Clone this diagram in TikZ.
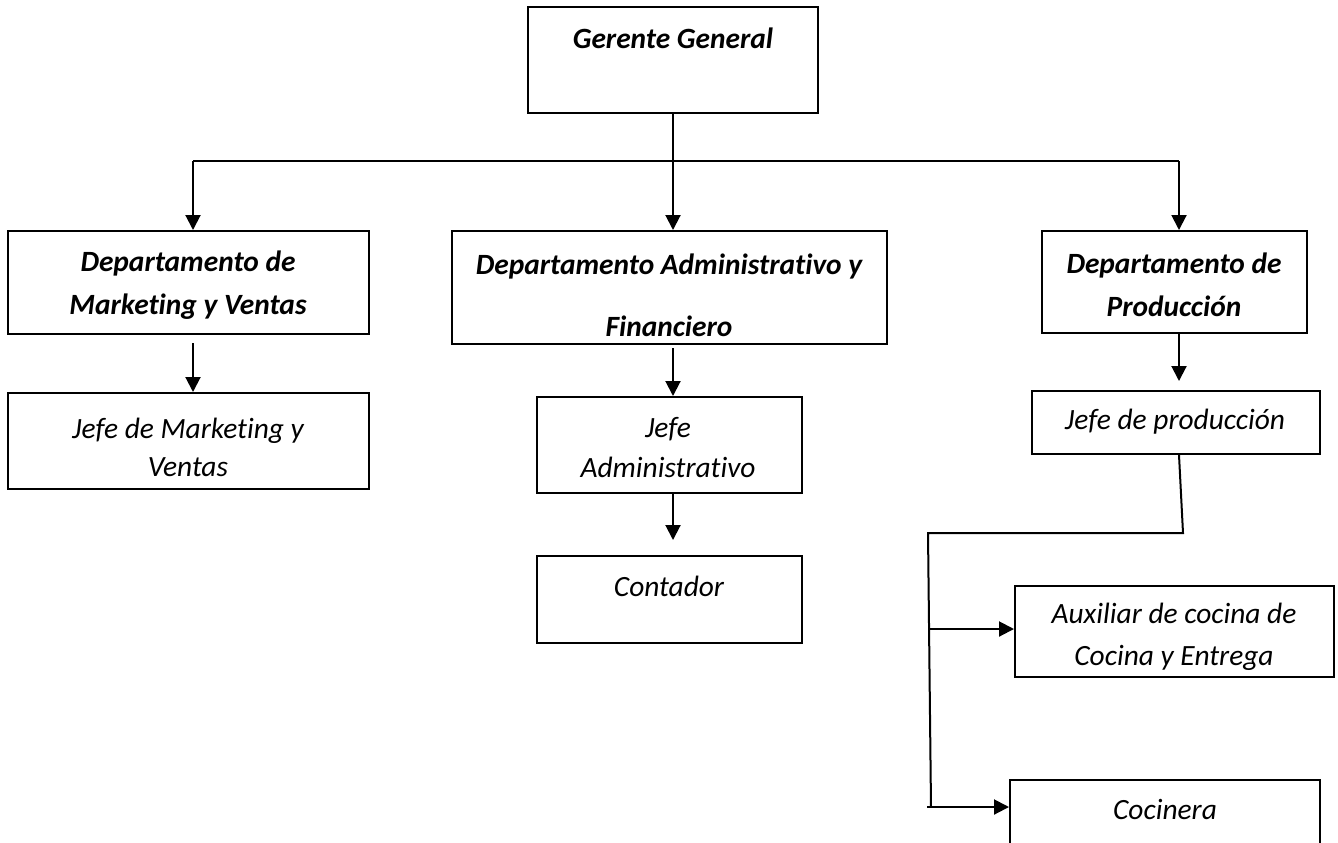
\documentclass[tikz,border=0pt]{standalone}
\usepackage{fontspec}
\setmainfont{Carlito}[Ligatures=NoCommon]
\usetikzlibrary{arrows.meta,fit,positioning}

\tikzset{
  box/.style={draw,line width=1pt,inner sep=0pt},
  txt/.style={font=\fontsize{14.7}{21}\selectfont\itshape,align=center,inner sep=0pt},
  btxt/.style={txt,font=\fontsize{14.7}{21.5}\selectfont\bfseries\itshape},
  arr/.style={line width=1pt,-{Triangle[width=7.5pt,length=7.5pt]}},
  ln/.style={line width=1pt}
}

\begin{document}
\begin{tikzpicture}[x=0.5pt,y=-0.5pt]
\clip (0,0) rectangle (1338,842);
\fill[white] (0,0) rectangle (1338,842);

% boxes
\node[box,fit={(528,7) (818,113)}] (gg) {};
\node[box,fit={(8,231) (369,334)}] (dm) {};
\node[box,fit={(452,231) (887,344)}] (da) {};
\node[box,fit={(1042,231) (1307,333)}] (dp) {};
\node[box,fit={(8,393) (369,489)}] (jm) {};
\node[box,fit={(537,397) (802,493)}] (ja) {};
\node[box,fit={(537,556) (802,643)}] (ct) {};
\node[box,fit={(1032,391) (1320,454)}] (jp) {};
\node[box,fit={(1015,586) (1334,677)}] (ax) {};
\node[box,fit={(1010,780) (1320,900)}] (co) {};

% texts
\node[btxt] (tgg) at (673,38) {Gerente General};
\node[btxt] (tdm) at (188,285) {Departamento de\\Marketing y Ventas};
\node[btxt,font=\fontsize{14.7}{31}\selectfont\bfseries\itshape] (tda) at (669,295) {Departamento Administrativo y\\Financiero};
\node[btxt] (tdp) at (1174,285) {Departamento de\\Producción};
\node[txt,font=\fontsize{14.7}{19}\selectfont\itshape] (tjm) at (188,447) {Jefe de Marketing y\\Ventas};
\node[txt,font=\fontsize{14.7}{20}\selectfont\itshape] (tja) at (668,448) {Jefe\\Administrativo};
\node[txt] (tct) at (669,586) {Contador};
\node[txt] (tjp) at (1175,422) {Jefe de producción};
\node[txt] (tax) at (1174,637) {Auxiliar de cocina de\\Cocina y Entrega};
\node[txt] (tco) at (1165,809) {Cocinera};

% connectors
\coordinate (top) at (673,161);
\coordinate (hl) at (193,161);
\coordinate (hr) at (1179,161);
\draw[ln] (gg.south) -- (top);
\draw[ln] (hl) -- (hr);
\draw[arr] (hl) -- (hl |- dm.north);
\draw[arr] (top) -- (top |- da.north);
\draw[arr] (hr) -- (hr |- dp.north);
\draw[arr,shorten <=4pt] (dm.south -| hl) -- (jm.north -| hl);
\draw[arr,shorten <=1.5pt] (da.south -| top) -- (ja.north -| top);
\draw[arr,shorten >=7.5pt] (ja.south -| top) -- (ct.north -| top);
\draw[arr,shorten >=4.5pt] (dp.south -| hr) -- (jp.north -| hr);

\coordinate (k1) at (1183,533);
\coordinate (k2) at (928,533);
\coordinate (k3) at (931,807);
\coordinate (b1) at (930,629);
\coordinate (b2) at (927,807);
\draw[ln] (jp.south -| hr) -- (k1) -- (k2) -- (k3);
\draw[arr] (b1) -- (b1 -| ax.west);
\draw[arr] (b2) -- (b2 -| co.west);
\end{tikzpicture}
\end{document}
